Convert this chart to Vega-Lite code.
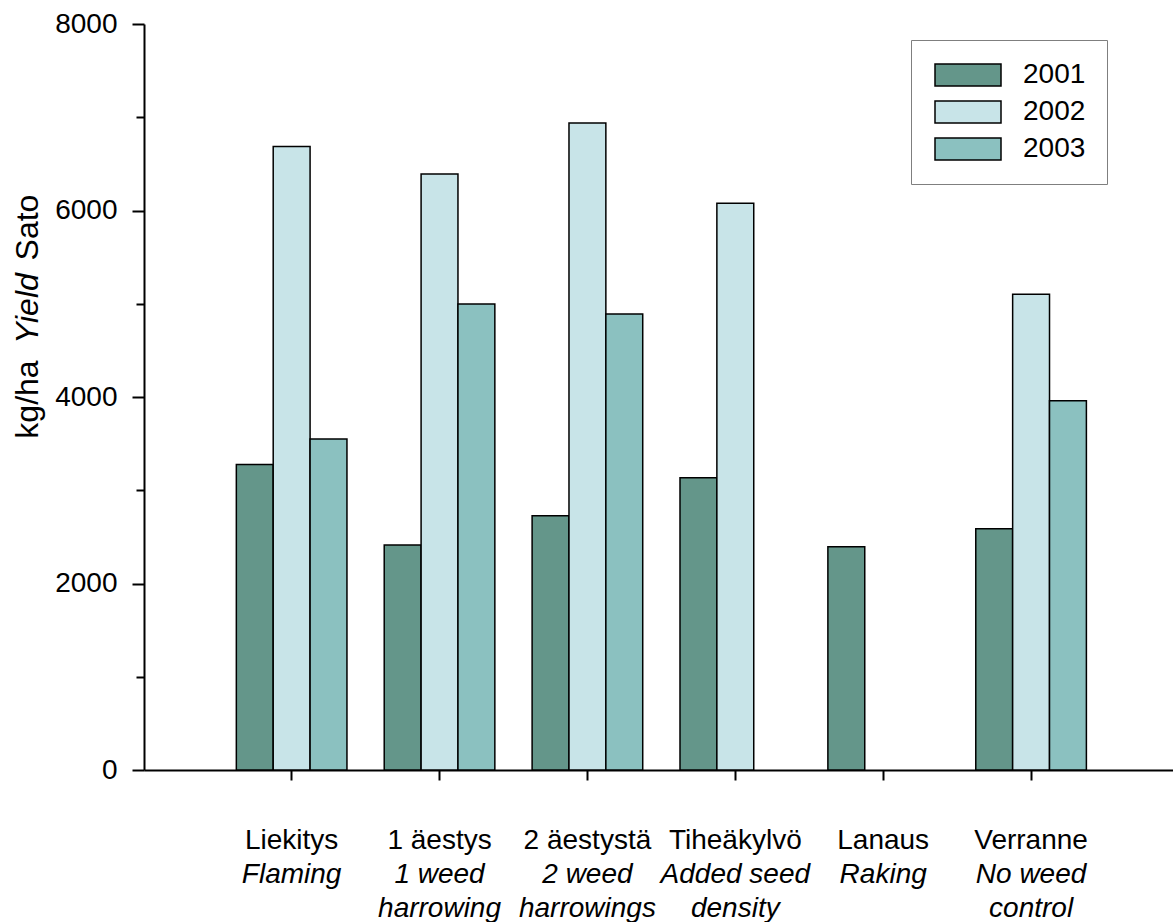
{
  "$schema": "https://vega.github.io/schema/vega-lite/v6.json",
  "width": 1029,
  "height": 746,
  "autosize": {"type": "none"},
  "padding": {"left": 144, "top": 24, "right": 0, "bottom": 152},
  "background": "white",
  "config": {"font": "Liberation Sans", "view": {"stroke": null}},
  "datasets": {
    "yields": [
      {"treatment": "Liekitys", "year": "2001", "yield": 3275},
      {"treatment": "Liekitys", "year": "2002", "yield": 6685},
      {"treatment": "Liekitys", "year": "2003", "yield": 3550},
      {"treatment": "1 äestys", "year": "2001", "yield": 2413},
      {"treatment": "1 äestys", "year": "2002", "yield": 6391},
      {"treatment": "1 äestys", "year": "2003", "yield": 4997},
      {"treatment": "2 äestystä", "year": "2001", "yield": 2727},
      {"treatment": "2 äestystä", "year": "2002", "yield": 6938},
      {"treatment": "2 äestystä", "year": "2003", "yield": 4890},
      {"treatment": "Tiheäkylvö", "year": "2001", "yield": 3135},
      {"treatment": "Tiheäkylvö", "year": "2002", "yield": 6077},
      {"treatment": "Lanaus", "year": "2001", "yield": 2395},
      {"treatment": "Verranne", "year": "2001", "yield": 2588},
      {"treatment": "Verranne", "year": "2002", "yield": 5101},
      {"treatment": "Verranne", "year": "2003", "yield": 3960}
    ],
    "labels": [
      {"treatment": "Liekitys", "en": "Flaming"},
      {"treatment": "1 äestys", "en": "1 weed\nharrowing"},
      {"treatment": "2 äestystä", "en": "2 weed\nharrowings"},
      {"treatment": "Tiheäkylvö", "en": "Added seed\ndensity"},
      {"treatment": "Lanaus", "en": "Raking"},
      {"treatment": "Verranne", "en": "No weed\ncontrol"}
    ]
  },
  "layer": [
    {
      "data": {"name": "yields"},
      "mark": {"type": "bar", "stroke": "black", "strokeWidth": 1.5},
      "encoding": {
        "x": {
          "field": "treatment", "type": "nominal",
          "scale": {"domain": ["Liekitys", "1 äestys", "2 äestystä", "Tiheäkylvö", "Lanaus", "Verranne"], "paddingInner": 0.252, "paddingOuter": 0.605, "align": 0.516},
          "axis": {"title": null, "labelFontSize": 28, "labelColor": "black", "labelPadding": 46, "labelAngle": 0, "labelBaseline": "top", "labelOverlap": false, "tickSize": 10, "tickWidth": 2, "tickColor": "black", "domainColor": "black", "domainWidth": 2, "grid": false}
        },
        "xOffset": {"field": "year", "type": "nominal", "scale": {"domain": ["2001", "2002", "2003"], "paddingInner": 0, "paddingOuter": 0}},
        "y": {
          "field": "yield", "type": "quantitative",
          "scale": {"domain": [0, 8000], "nice": false},
          "axis": {
            "orient": "left", "offset": 0, "grid": false,
            "values": [0, 1000, 2000, 3000, 4000, 5000, 6000, 7000, 8000],
            "labelExpr": "datum.value % 2000 === 0 ? '' + datum.value : ''",
            "labelFontSize": 28, "labelColor": "black", "labelPadding": 15, "labelOverlap": false,
            "tickSize": {"condition": {"test": "datum.value % 2000 === 0", "value": 12}, "value": 8},
            "tickWidth": 2, "tickColor": "black", "domainColor": "black", "domainWidth": 2,
            "title": "Sato", "titleFontSize": 32, "titleFontWeight": "normal", "titleColor": "black",
            "titleAngle": 270, "titleAlign": "center", "titleBaseline": "middle", "titleX": -117, "titleY": 203
          }
        },
        "color": {
          "field": "year", "type": "nominal",
          "scale": {"domain": ["2001", "2002", "2003"], "range": ["#64968A", "#C8E4E8", "#8BC1C0"]},
          "legend": {
            "orient": "none", "legendX": 767, "legendY": 16, "title": null,
            "symbolType": "M-1,-1H5V1H-1Z", "symbolSize": 484,
            "symbolStrokeColor": "black", "symbolStrokeWidth": 1.5, "symbolOpacity": 1,
            "labelFontSize": 28, "labelColor": "black", "labelOffset": 63,
            "padding": 21, "rowPadding": 9,
            "strokeColor": "#7f7f7f", "fillColor": "white"
          }
        }
      }
    },
    {
      "mark": {"type": "rule", "color": "black", "strokeWidth": 2},
      "encoding": {
        "y": {
          "datum": 8000, "type": "quantitative",
          "axis": {"orient": "left", "offset": 0, "domain": false, "ticks": false, "labels": false, "grid": false,
            "title": "Yield", "titleFontSize": 32, "titleFontWeight": "normal", "titleFontStyle": "italic", "titleColor": "black",
            "titleAngle": 270, "titleAlign": "center", "titleBaseline": "middle", "titleX": -117, "titleY": 284}
        }
      }
    },
    {
      "data": {"name": "labels"},
      "mark": {"type": "text", "fontSize": 28, "fontStyle": "italic", "color": "black", "align": "center", "baseline": "alphabetic", "dy": 113, "lineBreak": "\n", "lineHeight": 34},
      "encoding": {
        "x": {"field": "treatment", "type": "nominal"},
        "y": {
          "datum": 0, "type": "quantitative",
          "axis": {"orient": "left", "offset": 0, "domain": false, "ticks": false, "labels": false, "grid": false,
            "title": "kg/ha", "titleFontSize": 32, "titleFontWeight": "normal", "titleColor": "black",
            "titleAngle": 270, "titleAlign": "center", "titleBaseline": "middle", "titleX": -117, "titleY": 375}
        },
        "text": {"field": "en"}
      }
    }
  ],
  "resolve": {"axis": {"y": "independent"}}
}
